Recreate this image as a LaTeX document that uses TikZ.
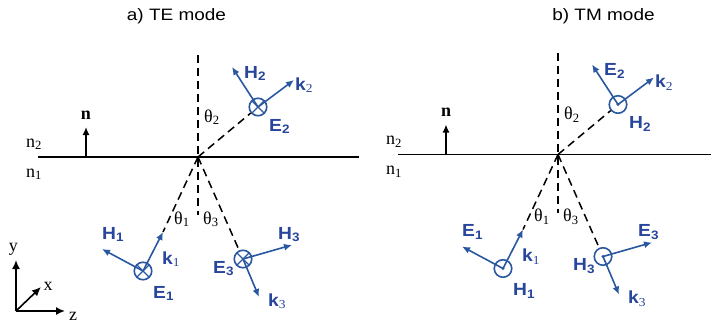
\documentclass[tikz,border=0pt]{standalone}
\usepackage{fontspec}
\setmainfont{Liberation Serif}
\setsansfont{Liberation Sans}
\usetikzlibrary{arrows.meta}
\definecolor{arrowblue}{RGB}{42,88,160}
\definecolor{labelblue}{RGB}{40,70,155}
\newcommand\fv[2]{\scalebox{1.1}[1]{\sffamily\bfseries #1\textsubscript{#2}}}
\newcommand\kv[1]{\scalebox{1.1}[1]{\sffamily\bfseries k\textsubscript{\rmfamily\mdseries #1}}}
\newcommand\thv[1]{θ\textsubscript{#1}}
\newcommand\nv[1]{n\textsubscript{#1}}
\newcommand\drawpanel[5]{%
  \coordinate (#1L) at (38,157);
  \coordinate (#1R) at (#5,157);
  \draw[interface] (#1L) -- (#1R);
  \coordinate (#1O) at (198,157);
  \coordinate (#1vt) at (198,55);
  \coordinate (#1vb) at (198,215);
  \draw[dashline] (#1vt) -- (#1vb);
  \node[serlab, anchor=base west] (#1n2) at (26,147) {\nv{2}};
  \node[serlab, anchor=base west] (#1n1) at (26,177) {\nv{1}};
  \coordinate (#1nb) at (86,157);
  \coordinate (#1nt) at (86,127);
  \draw[narrow] (#1nb) -- (#1nt);
  \node[serlab, anchor=base] (#1n) at (86,119) {\textbf{n}};
  % reflected
  \node[#2] (#1C2) at (258,107) {};
  \coordinate (#1a2) at (232,67);
  \coordinate (#1k2) at (294,80);
  \draw[dashline] (#1O) -- (#1C2);
  \draw[field] (#1C2.center) -- (#1a2);
  \draw[field] (#1C2.center) -- (#1k2);
  \node[flabel] (#1A2) at (244,78) {\fv{#3}{2}};
  \node[flabel] (#1K2) at (295,90) {\kv{2}};
  \node[flabel] (#1B2) at (269,131) {\fv{#4}{2}};
  \node[serlab, anchor=base west] (#1t2) at (204,122) {\thv{2}};
  % incident
  \node[#2] (#1C1) at (143,271) {};
  \coordinate (#1a1) at (102,249);
  \coordinate (#1k1) at (163,232);
  \draw[dashline] (#1O) -- (#1k1);
  \draw[field] (#1C1.center) -- (#1a1);
  \draw[field] (#1C1.center) -- (#1k1);
  \node[flabel] (#1A1) at (102,239) {\fv{#3}{1}};
  \node[flabel] (#1K1) at (162,264) {\kv{1}};
  \node[flabel] (#1B1) at (153,298) {\fv{#4}{1}};
  \node[serlab, anchor=base west] (#1t1) at (174,224) {\thv{1}};
  % transmitted
  \node[#2] (#1C3) at (243,259) {};
  \coordinate (#1a3) at (292,245);
  \coordinate (#1k3) at (259,297);
  \draw[dashline] (#1O) -- (#1C3);
  \draw[field] (#1C3.center) -- (#1a3);
  \draw[field] (#1C3.center) -- (#1k3);
  \node[flabel] (#1A3) at (278,239) {\fv{#3}{3}};
  \node[flabel] (#1B3) at (213,273) {\fv{#4}{3}};
  \node[flabel] (#1K3) at (268,306) {\kv{3}};
  \node[serlab, anchor=base west] (#1t3) at (203,224) {\thv{3}};
}
\begin{document}
\begin{tikzpicture}[x=1pt, y=-1pt,
  interface/.style={line width=1.7pt},
  dashline/.style={dash pattern=on 8pt off 5pt, line width=1.5pt},
  field/.style={draw=arrowblue, line width=1.6pt, -{Latex[length=8pt,width=7pt]}},
  fcirc/.style={circle, draw=arrowblue, line width=1.6pt, minimum size=17.5pt, inner sep=0pt},
  crossc/.style={fcirc, path picture={\draw[arrowblue, line width=1.4pt]
      (path picture bounding box.north west) -- (path picture bounding box.south east)
      (path picture bounding box.north east) -- (path picture bounding box.south west);}},
  dotc/.style={fcirc, path picture={\fill[arrowblue] (path picture bounding box.center) circle (1.7pt);}},
  flabel/.style={text=labelblue, inner sep=0pt, anchor=base west, font=\fontsize{17.5}{19}\selectfont},
  serlab/.style={inner sep=0pt, font=\fontsize{18}{20}\selectfont},
  titlelab/.style={inner sep=0pt, anchor=base, font=\sffamily\fontsize{16.5}{18}\selectfont},
  narrow/.style={line width=1.5pt, -{Latex[length=8pt,width=7pt]}},
  axis/.style={line width=1.6pt, -{Latex[length=9pt,width=8pt]}}]
\useasboundingbox (0,0) rectangle (711,324);
\node[titlelab] (ta) at (176.5,20.7) {\scalebox{1.15}[1]{a) TE mode}};
\node[titlelab] (tb) at (603.5,20.7) {\scalebox{1.15}[1]{b) TM mode}};
\drawpanel{a}{crossc}{H}{E}{359}
\begin{scope}[shift={(360,-2.5)}]
\drawpanel{b}{dotc}{E}{H}{351}
\end{scope}
% coordinate axes
\coordinate (org) at (16,311);
\coordinate (ay) at (16,260);
\coordinate (az) at (65,311);
\coordinate (ax) at (41,287);
\draw[axis] (org) -- (ay);
\draw[axis] (org) -- (az);
\draw[axis] (org) -- (ax);
\node[serlab, anchor=base] (ly) at (13.5,251) {y};
\node[serlab, anchor=base] (lx) at (48,290) {x};
\node[serlab, anchor=base] (lz) at (73,320) {z};
\end{tikzpicture}
\end{document}
